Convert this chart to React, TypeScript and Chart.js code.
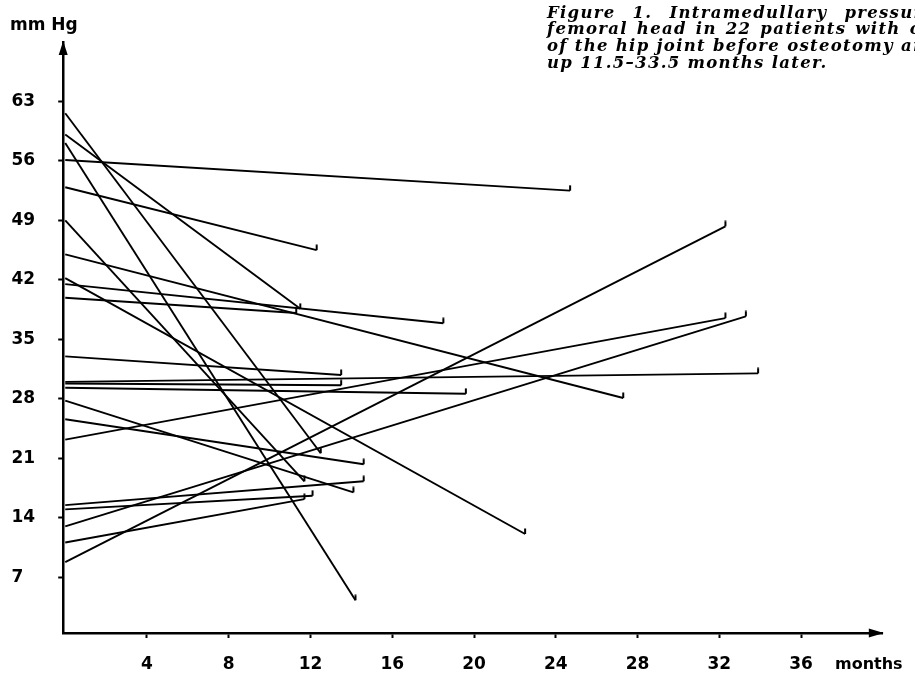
import React, { useEffect, useRef } from "react";
import { Chart, registerables } from "chart.js";

Chart.register(...registerables);

// Intramedullary pressure (mm Hg) before osteotomy (month 0) and at follow-up
const preValues = [61.6, 59.1, 58.1, 56.1, 52.9, 49.0, 45.0, 42.2, 41.5, 39.9, 33.0, 30.0, 29.8, 29.3, 27.8, 25.6, 23.2, 15.5, 15.0, 13.0, 11.1, 8.8];
const followUpMonths = [12.5, 11.5, 14.2, 24.7, 12.3, 11.7, 27.3, 22.5, 18.5, 11.3, 13.5, 33.9, 13.5, 19.6, 14.1, 14.6, 32.3, 14.6, 12.1, 33.3, 11.7, 32.3];
const postValues = [21.6, 38.6, 4.3, 52.5, 45.5, 18.3, 28.1, 12.1, 36.9, 38.1, 30.8, 31.0, 29.6, 28.6, 17.0, 20.3, 37.5, 18.3, 16.6, 37.7, 16.2, 48.3];

const xTickValues = [4, 8, 12, 16, 20, 24, 28, 32, 36];
const yTickValues = [7, 14, 21, 28, 35, 42, 49, 56, 63];

const yAxisTitle = "mm Hg";
const xAxisTitle = "months";
const captionLines = [
  "Figure 1. Intramedullary pressure in the",
  "femoral head in 22 patients with osteoarthritis",
  "of the hip joint before osteotomy and at follow-",
  "up 11.5\u201333.5 months later.",
];
const captionWordSpacing = [10, 2, 0, 0];

const W = 915;
const H = 674;
const AREA_LEFT = 63.2;
const AREA_RIGHT = 882.8;
const AREA_BOTTOM = 633;
const LABEL_LEFT = 11.5;

export default function App() {
  const canvasRef = useRef<HTMLCanvasElement | null>(null);

  useEffect(() => {
    const canvas = canvasRef.current;
    if (!canvas) return;

    // end-of-line marker: short vertical stroke rising from the end point
    const marker = document.createElement("canvas");
    marker.width = 4;
    marker.height = 12;
    const mctx = marker.getContext("2d")!;
    mctx.fillStyle = "#000";
    mctx.fillRect(1, 0.5, 2, 5.5);

    const datasets = preValues.map((pre, i) => ({
      label: "Patient " + (i + 1),
      data: [
        { x: 0, y: pre },
        { x: followUpMonths[i], y: postValues[i] },
      ],
      borderColor: "#000",
      backgroundColor: "#000",
      borderWidth: 1.9,
      pointRadius: [0, 5],
      pointHoverRadius: 0,
      pointStyle: marker,
      showLine: true,
      tension: 0,
      clip: false as any,
    }));

    const arrows = {
      id: "axisArrows",
      afterDraw(chart: any) {
        const { ctx, chartArea } = chart;
        ctx.save();
        ctx.fillStyle = "#000";
        ctx.beginPath();
        ctx.moveTo(chartArea.right + 1, chartArea.bottom);
        ctx.lineTo(chartArea.right - 14, chartArea.bottom - 4.5);
        ctx.lineTo(chartArea.right - 14, chartArea.bottom + 4.5);
        ctx.closePath();
        ctx.fill();
        ctx.beginPath();
        ctx.moveTo(chartArea.left, chartArea.top - 1);
        ctx.lineTo(chartArea.left - 4.5, chartArea.top + 13);
        ctx.lineTo(chartArea.left + 4.5, chartArea.top + 13);
        ctx.closePath();
        ctx.fill();
        ctx.restore();
      },
    };

    const tickFont = { family: "'DejaVu Sans', sans-serif", size: 17, weight: "bold" as const };

    const chart = new Chart(canvas, {
      type: "scatter",
      data: { datasets: datasets as any },
      plugins: [arrows],
      options: {
        responsive: false,
        animation: false,
        devicePixelRatio: 1,
        events: [],
        layout: {
          padding: { left: LABEL_LEFT, top: 41.9, right: W - AREA_RIGHT, bottom: 0 },
        },
        plugins: {
          legend: { display: false },
          tooltip: { enabled: false },
          title: { display: false },
        },
        scales: {
          x: {
            type: "linear",
            min: -0.1,
            max: 40,
            afterBuildTicks: (s: any) => {
              s.ticks = xTickValues.map((v) => ({ value: v }));
            },
            afterFit: (s: any) => {
              s.height = H - AREA_BOTTOM;
            },
            grid: {
              drawOnChartArea: false,
              drawTicks: true,
              tickLength: 5,
              tickColor: "#000",
              tickWidth: 2,
              color: "#000",
            },
            border: { display: true, color: "#000", width: 2.5 },
            ticks: {
              color: "#000",
              font: tickFont,
              padding: 16,
              maxRotation: 0,
              autoSkip: false,
              callback: (v: any) => String(v),
            },
          },
          y: {
            type: "linear",
            min: 0.45,
            max: 70,
            afterBuildTicks: (s: any) => {
              s.ticks = yTickValues.map((v) => ({ value: v }));
            },
            afterFit: (s: any) => {
              s.width = AREA_LEFT - LABEL_LEFT;
            },
            grid: {
              drawOnChartArea: false,
              drawTicks: true,
              tickLength: 5,
              tickColor: "#000",
              tickWidth: 2,
              color: "#000",
            },
            border: { display: true, color: "#000", width: 2.5 },
            ticks: {
              color: "#000",
              font: tickFont,
              crossAlign: "far",
              padding: 4,
              autoSkip: false,
              callback: (v: any) => String(v),
            },
          },
        },
      },
    });

    return () => chart.destroy();
  }, []);

  const captionStyle: React.CSSProperties = {
    position: "absolute",
    left: 547,
    whiteSpace: "nowrap",
    fontFamily: "'DejaVu Serif', serif",
    fontStyle: "italic",
    fontWeight: "bold",
    fontSize: 16.5,
    lineHeight: "17px",
    letterSpacing: "1.3px",
    color: "#000",
  };

  return (
    <div
      style={{
        position: "absolute",
        left: 0,
        top: 0,
        width: W,
        height: H,
        overflow: "hidden",
        background: "#fff",
      }}
    >
      <canvas ref={canvasRef} width={W} height={H} style={{ position: "absolute", left: 0, top: 0, width: W, height: H }} />
      <div
        style={{
          position: "absolute",
          left: 10,
          top: 14,
          fontFamily: "'DejaVu Sans', sans-serif",
          fontWeight: "bold",
          fontSize: 17,
          lineHeight: "20px",
          color: "#000",
          whiteSpace: "nowrap",
        }}
      >
        {yAxisTitle}
      </div>
      <div
        style={{
          position: "absolute",
          left: 835,
          top: 654,
          fontFamily: "'DejaVu Sans', sans-serif",
          fontWeight: "bold",
          fontSize: 16,
          lineHeight: "20px",
          color: "#000",
          whiteSpace: "nowrap",
        }}
      >
        {xAxisTitle}
      </div>
      {captionLines.map((line, i) => (
        <div
          key={i}
          style={{
            ...captionStyle,
            top: 3.5 + i * 16.8,
            wordSpacing: captionWordSpacing[i] + "px",
          }}
        >
          {line}
        </div>
      ))}
    </div>
  );
}
